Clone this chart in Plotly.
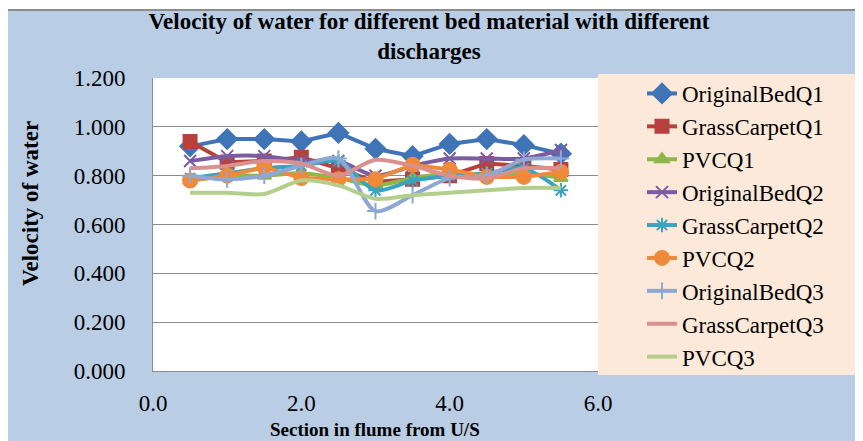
import plotly.graph_objects as go

# section positions along the flume (x) and measured velocities
sections = [0.5, 1.0, 1.5, 2.0, 2.5, 3.0, 3.5, 4.0, 4.5, 5.0, 5.5]

original_bed_q1 = [0.920, 0.950, 0.950, 0.940, 0.975, 0.910, 0.880, 0.930, 0.950, 0.925, 0.890]
grass_carpet_q1 = [0.940, 0.855, 0.860, 0.875, 0.830, 0.775, 0.785, 0.800, 0.850, 0.840, 0.825]
pvc_q1 = [0.780, 0.800, 0.800, 0.810, 0.790, 0.760, 0.790, 0.810, 0.800, 0.810, 0.790]
original_bed_q2 = [0.860, 0.880, 0.880, 0.860, 0.860, 0.800, 0.840, 0.870, 0.870, 0.870, 0.905]
grass_carpet_q2 = [0.790, 0.810, 0.830, 0.840, 0.860, 0.740, 0.780, 0.800, 0.810, 0.830, 0.740]
pvc_q2 = [0.780, 0.800, 0.835, 0.790, 0.785, 0.785, 0.845, 0.825, 0.795, 0.795, 0.815]
original_bed_q3 = [0.800, 0.785, 0.800, 0.840, 0.870, 0.655, 0.720, 0.790, 0.800, 0.865, 0.870]
grass_carpet_q3 = [0.830, 0.840, 0.860, 0.850, 0.800, 0.865, 0.840, 0.800, 0.790, 0.830, 0.830]
pvc_q3 = [0.730, 0.730, 0.725, 0.780, 0.760, 0.705, 0.720, 0.730, 0.740, 0.750, 0.750]

y_ticks = [0.0, 0.2, 0.4, 0.6, 0.8, 1.0, 1.2]
x_ticks = [0.0, 2.0, 4.0, 6.0]

series = [
    ("OriginalBedQ1", original_bed_q1, "#3F74B6", "diamond", 15, "linear"),
    ("GrassCarpetQ1", grass_carpet_q1, "#B8403D", "square", 13, "linear"),
    ("PVCQ1", pvc_q1, "#8DB849", "triangle-up", 12, "spline"),
    ("OriginalBedQ2", original_bed_q2, "#7B5CA3", "x-thin-open", 12, "spline"),
    ("GrassCarpetQ2", grass_carpet_q2, "#3BA3BE", "asterisk-open", 12, "spline"),
    ("PVCQ2", pvc_q2, "#EF8A3A", "circle", 14, "linear"),
    ("OriginalBedQ3", original_bed_q3, "#8EA8D6", "cross-thin-open", 12, "spline"),
    ("GrassCarpetQ3", grass_carpet_q3, "#D9908E", None, 0, "spline"),
    ("PVCQ3", pvc_q3, "#B4CF8C", None, 0, "spline"),
]

serif = "Liberation Serif"
bg = "#B9CDE5"

fig = go.Figure()
for i, (name, vals, color, symbol, size, shape) in enumerate(series):
    mode = "lines+markers" if symbol else "lines"
    marker = dict(symbol=symbol, size=size, color=color,
                  line=dict(width=2, color=color)) if symbol else None
    fig.add_trace(go.Scatter(
        x=sections, y=vals, name=name, mode=mode,
        line=dict(color=color, width=4, shape=shape, smoothing=0.8),
        marker=marker, legendgroup=str(i),
    ))

# the page body has an 8px margin, so work in screen pixels and shift
OFF = 8
W, H = 863 - OFF, 441 - OFF
L, R, T, B = 153 - OFF, 598 - OFF, 78 - OFF, 371 - OFF
pw, ph = R - L, B - T


def px(x):
    return (x - OFF - L) / pw


def py(y):
    return (B - (y - OFF)) / ph


fig.update_layout(
    width=W, height=H,
    margin=dict(l=L, r=W - R, t=T, b=H - B),
    paper_bgcolor="white",
    plot_bgcolor="white",
    font=dict(family=serif, color="black"),
    title=dict(
        text="<b>Velocity of water for different bed material with different<br>discharges</b>",
        x=px(429), xref="paper", xanchor="center",
        y=1 - (29 - OFF) / H, yanchor="middle",
        font=dict(family=serif, size=23, color="black"),
    ),
    legend=dict(
        xref="container", yref="container",
        x=(642 - OFF) / W, y=1 - (72 - OFF) / H, xanchor="left", yanchor="top",
        bgcolor="rgba(0,0,0,0)", borderwidth=0, maxheight=400,
        font=dict(family=serif, size=23, color="black"),
        tracegroupgap=0, traceorder="grouped",
    ),
    xaxis=dict(
        range=[0, 6], tickvals=x_ticks, tickformat=".1f",
        showgrid=False, zeroline=False, automargin=False,
        showline=True, linecolor="#8C8C8C", linewidth=1,
        ticks="", ticklabelstandoff=11,
        tickfont=dict(family=serif, size=23, color="black"),
    ),
    yaxis=dict(
        range=[0, 1.2], tickvals=y_ticks, tickformat=".3f",
        showgrid=True, gridcolor="#8C8C8C", gridwidth=1,
        zeroline=False, showline=True, linecolor="#8C8C8C", linewidth=1,
        automargin=False, ticks="", ticklabelstandoff=22,
        tickfont=dict(family=serif, size=23, color="black"),
    ),
    shapes=[
        # chart area frame
        dict(type="rect", xref="paper", yref="paper", layer="below",
             x0=px(5), x1=px(880), y0=py(460), y1=py(10),
             fillcolor=bg, line=dict(color="#8C8C8C", width=2)),
        # plot area
        dict(type="rect", xref="paper", yref="paper", layer="below",
             x0=0, x1=1, y0=0, y1=1, fillcolor="white", line=dict(width=0)),
        # legend box
        dict(type="rect", xref="paper", yref="paper", layer="below",
             x0=1, x1=px(860), y0=py(375), y1=py(74),
             fillcolor="#FCE9D9", line=dict(width=0)),
    ],
    annotations=[
        dict(text="<b>Velocity of water</b>", xref="paper", yref="paper",
             x=px(30), y=py(204), textangle=-90, showarrow=False,
             xanchor="center", yanchor="middle",
             font=dict(family=serif, size=23, color="black")),
        dict(text="<b>Section in flume from U/S</b>", xref="paper", yref="paper",
             x=px(375), y=py(429), showarrow=False,
             xanchor="center", yanchor="middle",
             font=dict(family=serif, size=19, color="black")),
    ],
)

fig.write_html("out.html")
